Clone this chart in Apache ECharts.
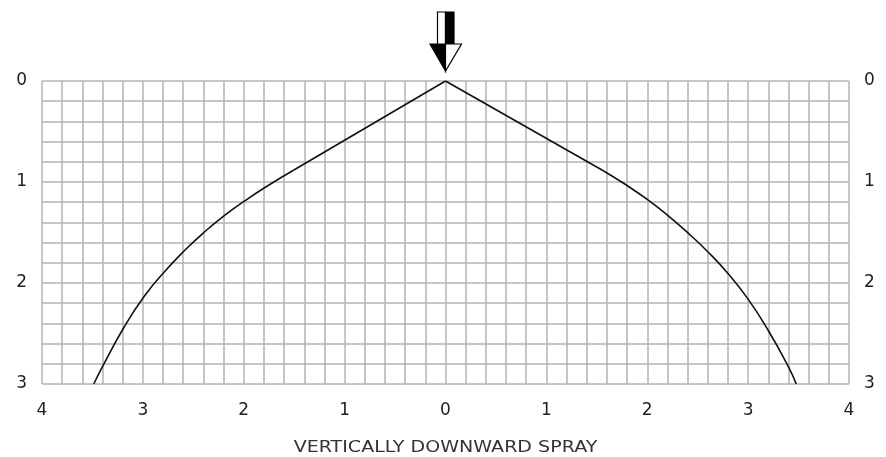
<!DOCTYPE html>
<html>
<head>
<meta charset="utf-8">
<script src="https://cdn.jsdelivr.net/npm/echarts@6/dist/echarts.min.js"></script>
<style>html,body{margin:0;padding:0;background:#fff}#c{width:886px;height:457px}</style>
</head>
<body>
<div id="c"></div>
<script>
// Spray envelope: horizontal distance (x, negative = left) vs depth below nozzle (y)
var apexLeftX = [0, -1.507];
var apexLeftY = [0, 0.884];
var apexRightX = [0, 1.56];
var apexRightY = [0, 0.886];
var leftCurveX = [-1.507, -1.79, -1.99, -2.19, -2.39, -2.59, -2.79, -2.99, -3.19, -3.39, -3.487];
var leftCurveY = [0.884, 1.054, 1.187, 1.331, 1.495, 1.681, 1.893, 2.137, 2.443, 2.809, 3.0];
var rightCurveX = [1.56, 1.8, 2.0, 2.2, 2.4, 2.6, 2.8, 3.0, 3.2, 3.4, 3.477];
var rightCurveY = [0.886, 1.035, 1.173, 1.327, 1.501, 1.69, 1.905, 2.16, 2.47, 2.83, 3.0];
var xTicks = [-4, -3, -2, -1, 0, 1, 2, 3, 4];
var yTicks = [0, 1, 2, 3];
var title = 'VERTICALLY DOWNWARD SPRAY';

function pairs(xs, ys) { return xs.map(function (x, i) { return [x, ys[i]]; }); }

var gridColor = '#b4b4b4';
var font = 'DejaVu Sans';
function yAxisCfg(pos) {
  return {
    type: 'value', position: pos, min: yTicks[0], max: yTicks[yTicks.length - 1], interval: 1, inverse: true,
    axisLine: { show: false }, axisTick: { show: false },
    axisLabel: { show: true, margin: 15, fontSize: 17, color: '#222', fontFamily: font },
    splitLine: { show: pos === 'left', lineStyle: { color: gridColor, width: 1.5 } },
    minorTick: { show: false, splitNumber: 5 },
    minorSplitLine: { show: pos === 'left', lineStyle: { color: gridColor, width: 1.5 } }
  };
}
var lineStyle = { color: '#111', width: 1.6 };
var chart = echarts.init(document.getElementById('c'));
chart.setOption({
  animation: false,
  grid: { left: 42, right: 37, top: 81, bottom: 73 },
  xAxis: {
    type: 'value', min: xTicks[0], max: xTicks[xTicks.length - 1], interval: 1,
    axisLine: { show: false }, axisTick: { show: false },
    axisLabel: { margin: 18, fontSize: 17, color: '#222', fontFamily: font, formatter: function (v) { return String(Math.abs(v)); } },
    splitLine: { show: true, lineStyle: { color: gridColor, width: 1.5 } },
    minorTick: { show: false, splitNumber: 5 },
    minorSplitLine: { show: true, lineStyle: { color: gridColor, width: 1.5 } }
  },
  yAxis: [yAxisCfg('left'), yAxisCfg('right')],
  series: [
    { type: 'line', data: pairs(apexLeftX, apexLeftY), showSymbol: false, lineStyle: lineStyle, z: 5 },
    { type: 'line', data: pairs(apexRightX, apexRightY), showSymbol: false, lineStyle: lineStyle, z: 5 },
    { type: 'line', data: pairs(leftCurveX, leftCurveY), smooth: 0.5, showSymbol: false, lineStyle: lineStyle, z: 5 },
    { type: 'line', data: pairs(rightCurveX, rightCurveY), smooth: 0.5, showSymbol: false, lineStyle: lineStyle, z: 5 }
  ]
});
// Arrow indicating spray direction, placed above the apex; title centred under the plot
var tip = chart.convertToPixel({ xAxisIndex: 0, yAxisIndex: 0 }, [0, 0]);
var tx = tip[0], ty = tip[1] - 10;
chart.setOption({
  graphic: [
    { type: 'rect', shape: { x: tx - 8, y: ty - 59, width: 8, height: 33 }, style: { fill: '#fff', stroke: '#000', lineWidth: 1.2 } },
    { type: 'rect', shape: { x: tx, y: ty - 59, width: 8.5, height: 33 }, style: { fill: '#000', stroke: '#000', lineWidth: 1.2 } },
    { type: 'polygon', shape: { points: [[tx - 15.5, ty - 27], [tx, ty - 27], [tx, ty]] }, style: { fill: '#000', stroke: '#000', lineWidth: 1.2 } },
    { type: 'polygon', shape: { points: [[tx, ty - 27], [tx + 16, ty - 27], [tx, ty]] }, style: { fill: '#fff', stroke: '#000', lineWidth: 1.2 } },
    { type: 'text', x: tx, y: 448, scaleX: 1.27,
      style: { text: title, textAlign: 'center', textVerticalAlign: 'middle', fontSize: 15, fontFamily: font, fill: '#333' } }
  ]
});
</script>
</body>
</html>
